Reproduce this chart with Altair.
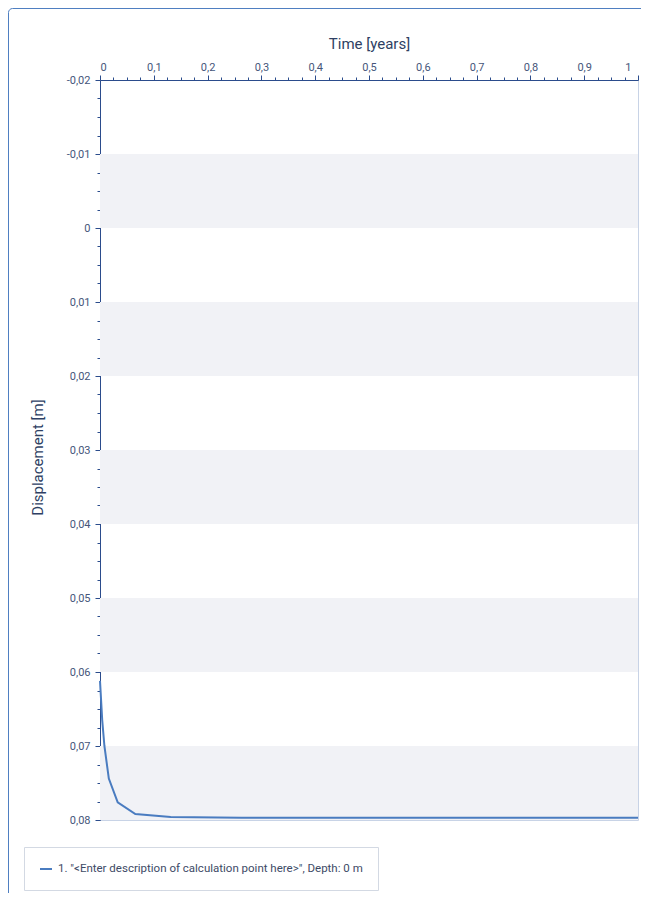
import altair as alt
import pandas as pd

# ---- data ----
time_years = [0.0, 0.0041, 0.0082, 0.0164, 0.0329, 0.0657, 0.1314, 0.2628, 0.5, 0.75, 1.0]
displacement_m = [0.0612, 0.0665, 0.0700, 0.0744, 0.0776, 0.0792, 0.0796, 0.07968, 0.0797, 0.0797, 0.0797]
series_name = "1. \"<Enter description of calculation point here>\", Depth: 0 m"

band_lo = [-0.01, 0.01, 0.03, 0.05, 0.07]
band_hi = [0.0, 0.02, 0.04, 0.06, 0.08]

x_major = [0, 0.1, 0.2, 0.3, 0.4, 0.5, 0.6, 0.7, 0.8, 0.9, 1.0]
y_major = [-0.02, -0.01, 0, 0.01, 0.02, 0.03, 0.04, 0.05, 0.06, 0.07, 0.08]

x_ticks = [round(i * 0.025, 4) for i in range(41)]
y_ticks = [round(-0.02 + i * 0.0025, 5) for i in range(41)]

line_df = pd.DataFrame({"t": time_years, "d": displacement_m, "series": series_name})
band_df = pd.DataFrame({"lo": band_lo, "hi": band_hi})
frame_df = pd.DataFrame({"k": [0]})

FONT = "Roboto"
AXIS_COL = "#2b4c8c"
LABEL_COL = "#46567a"
TITLE_COL = "#2e3f63"
LINE_COL = "#4a7cc0"

PAD_LEFT = 92
PAD_TOP = 72
PLOT_W = 538
PLOT_H = 740

x_major_test = "abs(datum.value*10 - round(datum.value*10)) < 1e-6"
y_major_test = "abs(datum.value*100 - round(datum.value*100)) < 1e-6"

x_axis = alt.Axis(
    orient="top",
    title="Time [years]",
    values=x_ticks,
    labelExpr=f"{x_major_test} ? replace(format(datum.value, '.1~f'), '.', ',') : ''",
    tickSize={"condition": {"test": x_major_test, "value": 5}, "value": 3},
    labelOffset={"condition": {"test": "datum.value > 0.999", "value": -7}, "value": 0},
    labelOverlap=False,
    grid=False,
    domainColor=AXIS_COL,
    tickColor=AXIS_COL,
    labelColor=LABEL_COL,
    titleColor=TITLE_COL,
    labelFont=FONT,
    titleFont=FONT,
    labelFontSize=11,
    titleFontSize=15,
    titleFontWeight="normal",
    labelPadding=3,
    titlePadding=10,
)

y_axis = alt.Axis(
    orient="left",
    title="Displacement [m]",
    values=y_ticks,
    labelExpr=(
        f"{y_major_test} ? ((datum.value < -1e-9 ? '-' : '') + "
        "replace(format(abs(datum.value), '.2~f'), '.', ',')) : ''"
    ),
    tickSize={"condition": {"test": y_major_test, "value": 5}, "value": 3},
    labelOverlap=False,
    grid=False,
    domainColor=AXIS_COL,
    tickColor=AXIS_COL,
    labelColor=LABEL_COL,
    titleColor=TITLE_COL,
    labelFont=FONT,
    titleFont=FONT,
    labelFontSize=11,
    titleFontSize=15,
    titleFontWeight="normal",
    labelPadding=5,
    titlePadding=21,
    titleY=377,
)

x_scale = alt.Scale(domain=[0, 1], nice=False, zero=False)
y_scale = alt.Scale(domain=[-0.02, 0.08], reverse=True, nice=False, zero=False)

bands = alt.Chart(band_df).mark_rect(color="#f1f2f6").encode(
    x=alt.X(datum=0, type="quantitative", scale=x_scale, axis=x_axis),
    x2=alt.X2(datum=1),
    y=alt.Y("lo:Q", scale=y_scale, axis=y_axis),
    y2="hi:Q",
)

line = alt.Chart(line_df).mark_line(strokeWidth=2, interpolate="linear").encode(
    x=alt.X("t:Q", scale=x_scale, axis=x_axis),
    y=alt.Y("d:Q", scale=y_scale, axis=y_axis),
    color=alt.Color(
        "series:N",
        scale=alt.Scale(domain=[series_name], range=[LINE_COL]),
        legend=alt.Legend(
            title=None,
            orient="none",
            legendX=-76,
            legendY=767,
            padding=15,
            strokeColor="#d3d9e3",
            fillColor="white",
            symbolType="stroke",
            symbolStrokeWidth=2,
            symbolSize=144,
            labelFont=FONT,
            labelFontSize=11.5,
            labelColor="#3d4a66",
            labelLimit=0,
            labelOffset=5,
        ),
    ),
)

frame = alt.Chart(frame_df).mark_rect(
    fill=None, stroke="#4f7fc1", strokeWidth=1, cornerRadius=4
).encode(
    x=alt.value(-PAD_LEFT + 0.5),
    y=alt.value(-PAD_TOP + 0.5),
    x2=alt.value(700),
    y2=alt.value(900),
)

chart = (
    alt.layer(frame, bands, line)
    .properties(
        width=PLOT_W,
        height=PLOT_H,
        padding={"left": PAD_LEFT, "top": PAD_TOP, "right": 3, "bottom": 73},
        autosize=alt.AutoSizeParams(type="none"),
        background="white",
    )
    .configure_view(stroke="#c8d3e6", strokeWidth=1)
)

chart.save("out.html", embed_options={"renderer": "svg", "actions": False})
